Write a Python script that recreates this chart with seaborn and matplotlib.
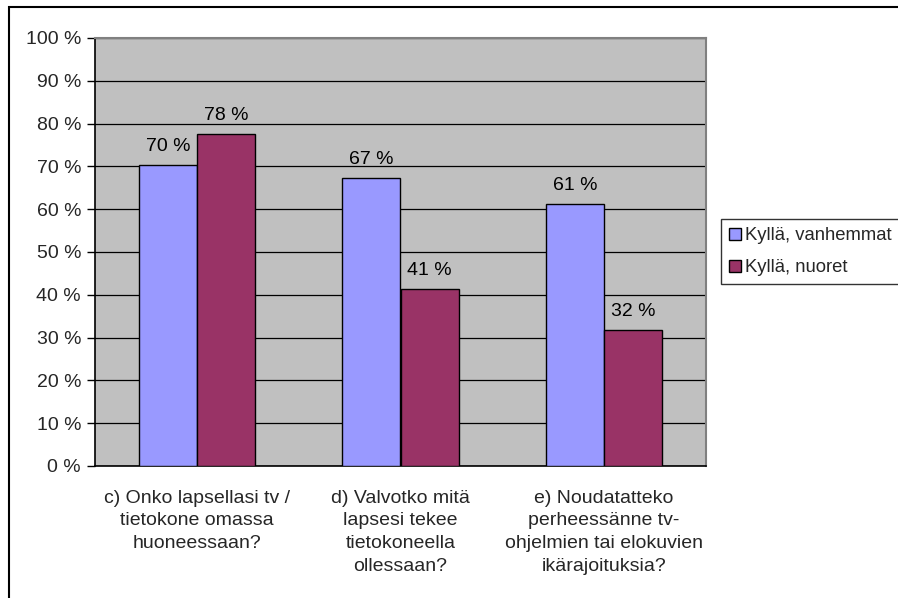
import matplotlib
matplotlib.use("Agg")
import matplotlib.pyplot as plt
import seaborn as sns
import pandas as pd
from matplotlib.patches import Rectangle, Patch

categories = [
    "c) Onko lapsellasi tv /\ntietokone omassa\nhuoneessaan?",
    "d) Valvotko mitä\nlapsesi tekee\ntietokoneella\nollessaan?",
    "e) Noudatatteko\nperheessänne tv-\nohjelmien tai elokuvien\nikärajoituksia?",
]
series_names = ["Kyllä, vanhemmat", "Kyllä, nuoret"]
vanhemmat = [70.3, 67.4, 61.3]
nuoret = [77.6, 41.4, 31.8]
y_ticks = list(range(0, 101, 10))
colors = ["#9999FF", "#993366"]

df = pd.DataFrame({
    "cat": categories * 2,
    "series": [series_names[0]] * 3 + [series_names[1]] * 3,
    "value": vanhemmat + nuoret,
})

sns.set_style("white")
plt.rcParams["font.family"] = ["Liberation Sans", "DejaVu Sans"]
FS = 14

fig = plt.figure(figsize=(8.98, 5.98), dpi=100)
ax = fig.add_axes([95 / 898, 1 - 466 / 598, (706 - 95) / 898, (466 - 38) / 598])
ax.set_facecolor("#C0C0C0")

sns.barplot(data=df, x="cat", y="value", hue="series", palette=colors,
            order=categories, hue_order=series_names, width=0.57, gap=0,
            edgecolor="black", linewidth=1.0, saturation=1, ax=ax, legend=False,
            zorder=3)

for cont, vals in zip(ax.containers, [vanhemmat, nuoret]):
    ax.bar_label(cont, labels=[f"{round(v)} %" for v in vals], padding=7,
                 fontsize=FS, color="black")

ax.set_ylim(0, 100)
ax.set_xlim(-0.5, 2.5)
ax.set_yticks(y_ticks)
ax.set_yticklabels([f"{t} %" for t in y_ticks], fontsize=FS)
ax.yaxis.grid(True, color="black", linewidth=0.9, zorder=0)
ax.set_axisbelow(True)
ax.set_xticks(range(3))
ax.set_xticklabels(categories, fontsize=FS, linespacing=1.45)
ax.set_xticks([-0.5, 0.5, 1.5, 2.5], minor=True)
ax.tick_params(axis="x", which="major", length=0, pad=17)
ax.tick_params(axis="x", which="minor", length=6, width=1, color="black", direction="out")
ax.tick_params(axis="y", length=6, width=1, color="black", direction="out", pad=4, left=True)
ax.set_xlabel("")
ax.set_ylabel("")
for s in ["left", "bottom"]:
    ax.spines[s].set_color("black")
    ax.spines[s].set_linewidth(1.2)
for s in ["top", "right"]:
    ax.spines[s].set_visible(True)
    ax.spines[s].set_color("#808080")
    ax.spines[s].set_linewidth(1.5)

handles = [Patch(facecolor=c, edgecolor="black", linewidth=1.0) for c in colors]
leg = fig.legend(handles, series_names, loc="upper left",
                 bbox_to_anchor=(721 / 898, 1 - 219 / 598), fontsize=13.3,
                 frameon=True, fancybox=False, edgecolor="black",
                 handlelength=0.62, handleheight=0.62, handletextpad=0.22,
                 borderpad=0.45, labelspacing=0.8, borderaxespad=0)
leg.get_frame().set_linewidth(1.0)

fig.patches.append(Rectangle((8.5 / 898, -0.5), 2, 1.5 - 6.5 / 598,
                             transform=fig.transFigure, fill=False,
                             edgecolor="black", linewidth=1.5))

fig.savefig("out.png", dpi=100, facecolor="white")
